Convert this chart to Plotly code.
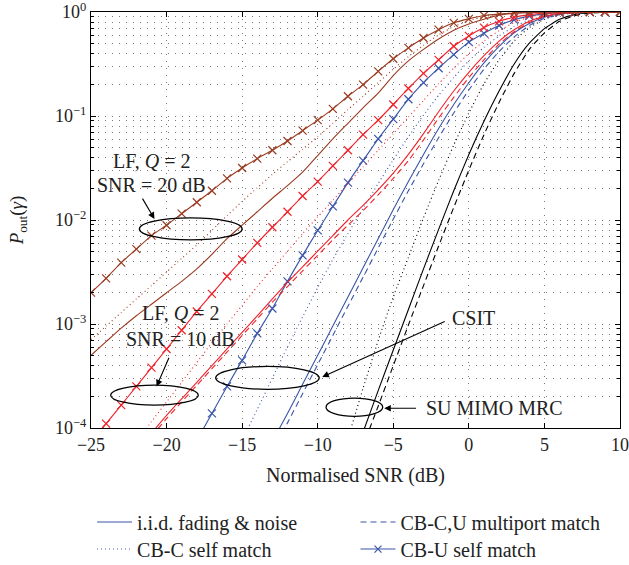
import plotly.graph_objects as go

# Normalised SNR (dB) grids, one per curve start
snr_25 = list(range(-25, 11))
snr_22 = list(range(-22, 11))
snr_21 = list(range(-21, 11))
snr_18 = list(range(-18, 11))
snr_15 = list(range(-15, 11))
snr_13 = list(range(-13, 11))
snr_9 = list(range(-9, 11))
snr_8 = list(range(-8, 11))

# LF, Q = 2, SNR = 20 dB (brown)
brown_iid = [5.01e-4, 6.76e-4, 9.12e-4, 1.20e-3, 1.55e-3, 2.00e-3, 2.57e-3, 3.39e-3, 4.68e-3,
             6.61e-3, 8.91e-3, 1.20e-2, 1.62e-2, 2.14e-2, 2.88e-2, 4.17e-2, 6.03e-2, 8.51e-2,
             0.120, 0.166, 0.245, 0.339, 0.437, 0.550, 0.668, 0.767, 0.851, 0.933, 0.973,
             0.991, 0.998, 1.0, 1.0, 1.0, 1.0, 1.0]
brown_cbc = [7.08e-4, 9.55e-4, 1.29e-3, 1.74e-3, 2.34e-3, 3.16e-3, 4.27e-3, 5.75e-3, 7.94e-3,
             1.10e-2, 1.51e-2, 2.04e-2, 2.75e-2, 3.63e-2, 4.79e-2, 6.31e-2, 8.51e-2, 0.115,
             0.155, 0.209, 0.282, 0.372, 0.479, 0.603, 0.724, 0.822, 0.902, 0.955, 0.984,
             0.995, 0.999, 1.0, 1.0, 1.0, 1.0, 1.0]
brown_cbu = [2.00e-3, 2.75e-3, 3.89e-3, 5.25e-3, 7.08e-3, 8.91e-3, 1.15e-2, 1.48e-2, 1.91e-2,
             2.51e-2, 3.16e-2, 3.89e-2, 4.68e-2, 5.75e-2, 7.24e-2, 9.12e-2, 0.117, 0.155,
             0.200, 0.269, 0.355, 0.452, 0.562, 0.676, 0.787, 0.859, 0.925, 0.955, 0.977,
             0.989, 0.995, 0.998, 0.999, 1.0, 1.0, 1.0]

# LF, Q = 2, SNR = 10 dB (red)
red_iid = [8.91e-5, 1.32e-4, 1.91e-4, 2.75e-4, 3.98e-4, 5.75e-4, 8.32e-4, 1.20e-3, 1.74e-3,
           2.51e-3, 3.55e-3, 5.01e-3, 7.08e-3, 1.00e-2, 1.38e-2, 1.95e-2, 2.82e-2, 4.27e-2,
           6.76e-2, 0.110, 0.174, 0.263, 0.380, 0.525, 0.676, 0.813, 0.912, 0.966, 0.989,
           0.998, 1.0, 1.0]
red_multi = [8.32e-5, 1.23e-4, 1.78e-4, 2.57e-4, 3.72e-4, 5.37e-4, 7.76e-4, 1.12e-3, 1.62e-3,
             2.29e-3, 3.24e-3, 4.57e-3, 6.46e-3, 8.91e-3, 1.23e-2, 1.74e-2, 2.51e-2, 3.72e-2,
             5.89e-2, 9.55e-2, 0.151, 0.234, 0.347, 0.490, 0.646, 0.794, 0.902, 0.962, 0.986,
             0.995, 0.999, 1.0]
red_cbc = [7.41e-5, 1.15e-4, 1.78e-4, 2.75e-4, 4.27e-4, 6.61e-4, 1.00e-3, 1.51e-3, 2.29e-3,
           3.39e-3, 5.01e-3, 7.41e-3, 1.07e-2, 1.55e-2, 2.24e-2, 3.24e-2, 4.68e-2, 6.76e-2,
           9.77e-2, 0.141, 0.204, 0.288, 0.398, 0.525, 0.661, 0.794, 0.891, 0.955, 0.984,
           0.995, 0.999, 1.0, 1.0]
red_cbu = [7.08e-5, 1.10e-4, 1.66e-4, 2.51e-4, 3.80e-4, 5.75e-4, 8.71e-4, 1.32e-3, 1.95e-3,
           2.88e-3, 4.17e-3, 6.03e-3, 8.51e-3, 1.20e-2, 1.70e-2, 2.34e-2, 3.31e-2, 4.68e-2,
           6.61e-2, 9.12e-2, 0.129, 0.184, 0.257, 0.347, 0.468, 0.589, 0.708, 0.813, 0.891,
           0.944, 0.977, 0.991, 0.997, 0.999, 1.0, 1.0]

# CSIT (blue)
blue_iid = [7.41e-5, 1.38e-4, 2.63e-4, 5.01e-4, 9.55e-4, 1.82e-3, 3.47e-3, 6.61e-3, 1.26e-2,
            2.34e-2, 4.27e-2, 7.59e-2, 0.129, 0.209, 0.324, 0.468, 0.631, 0.776, 0.891,
            0.955, 0.986, 0.998, 1.0, 1.0]
blue_multi = [6.03e-5, 1.12e-4, 2.14e-4, 4.07e-4, 7.76e-4, 1.48e-3, 2.82e-3, 5.37e-3, 1.02e-2,
              1.91e-2, 3.47e-2, 6.17e-2, 0.107, 0.178, 0.282, 0.417, 0.575, 0.741, 0.871,
              0.944, 0.982, 0.995, 0.999, 1.0]
blue_cbc = [7.59e-5, 1.51e-4, 3.02e-4, 6.03e-4, 1.17e-3, 2.24e-3, 4.17e-3, 7.41e-3, 1.29e-2,
            2.24e-2, 3.80e-2, 6.31e-2, 0.102, 0.158, 0.234, 0.339, 0.457, 0.589, 0.724,
            0.832, 0.912, 0.966, 0.989, 0.998, 1.0, 1.0]
blue_cbu = [7.59e-5, 1.38e-4, 2.51e-4, 4.47e-4, 8.13e-4, 1.41e-3, 2.57e-3, 4.57e-3, 7.94e-3,
            1.35e-2, 2.29e-2, 3.72e-2, 6.03e-2, 9.33e-2, 0.145, 0.209, 0.288, 0.389, 0.513,
            0.624, 0.741, 0.841, 0.912, 0.959, 0.984, 0.995, 0.999, 1.0, 1.0]

# SU MIMO MRC (black)
black_iid = [3.72e-5, 9.12e-5, 2.29e-4, 5.62e-4, 1.38e-3, 3.39e-3, 8.13e-3, 1.91e-2, 4.27e-2,
             8.91e-2, 0.174, 0.316, 0.501, 0.692, 0.851, 0.944, 0.982, 0.995, 1.0]
black_multi = [2.82e-5, 6.76e-5, 1.62e-4, 3.98e-4, 9.77e-4, 2.34e-3, 5.62e-3, 1.32e-2, 3.02e-2,
               6.61e-2, 0.135, 0.257, 0.437, 0.631, 0.813, 0.923, 0.977, 0.993, 1.0]
black_cbc = [2.51e-5, 7.94e-5, 2.40e-4, 6.92e-4, 1.82e-3, 4.37e-3, 1.05e-2, 2.40e-2, 5.25e-2,
             0.107, 0.204, 0.347, 0.525, 0.708, 0.851, 0.944, 0.982, 0.995, 0.999, 1.0]

x_ticks = [-25, -20, -15, -10, -5, 0, 5, 10]
x_labels = ["\u221225", "\u221220", "\u221215", "\u221210", "\u22125", "0", "5", "10"]
y_ticks = [1e-4, 1e-3, 1e-2, 1e-1, 1]
y_labels = ["10<sup>\u22124</sup>", "10<sup>\u22123</sup>", "10<sup>\u22122</sup>",
            "10<sup>\u22121</sup>", "10<sup>0</sup>"]

BROWN = "#9a3b22"
RED = "#f0222a"
BLUE = "#3a55a8"
BLACK = "#000000"
DOT = "1px,3px"
DASH = "6px,4px"
FONT = "Liberation Serif"

fig = go.Figure()


def add_curve(x, y, color, dash="solid", cross=False):
    fig.add_trace(go.Scatter(
        x=x, y=y, mode="lines+markers" if cross else "lines",
        line=dict(color=color, width=1.1, dash=dash, shape="spline", smoothing=0.5),
        marker=dict(symbol="x-thin", size=8, line=dict(color=color, width=1.2)),
        showlegend=False, hoverinfo="skip"))


add_curve(snr_9, black_cbc, BLACK, DOT)
add_curve(snr_8, black_iid, BLACK)
add_curve(snr_8, black_multi, BLACK, DASH)
add_curve(snr_15, blue_cbc, BLUE, DOT)
add_curve(snr_13, blue_iid, BLUE)
add_curve(snr_13, blue_multi, BLUE, DASH)
add_curve(snr_18, blue_cbu, BLUE, cross=True)
add_curve(snr_22, red_cbc, RED, DOT)
add_curve(snr_21, red_iid, RED)
add_curve(snr_21, red_multi, RED, DASH)
add_curve(snr_25, red_cbu, RED, cross=True)
add_curve(snr_25, brown_cbc, BROWN, DOT)
add_curve(snr_25, brown_iid, BROWN)
add_curve(snr_25, brown_cbu, BROWN, cross=True)

# legend entries (drawn in blue like the original), one small legend per slot
legend_items = [("i.i.d. fading &amp; noise", "solid", False, "legend"),
                ("CB-C,U multiport match", DASH, False, "legend2"),
                ("CB-C self match", DOT, False, "legend3"),
                ("CB-U self match", "solid", True, "legend4")]
for name, dash, cross, lg in legend_items:
    fig.add_trace(go.Scatter(
        x=[None], y=[None], name=name, mode="lines+markers" if cross else "lines",
        line=dict(color=BLUE, width=1.1, dash=dash), legend=lg,
        marker=dict(symbol="x-thin", size=7, line=dict(color=BLUE, width=1.2))))

ann_font = dict(family=FONT, size=20, color="#222")

# ellipses: x in dB, y as fraction of the plot height (log axis 1e-4 .. 1)
ellipses = [(-21.8, -15.0, 0.452, 0.505),
            (-23.7, -17.9, 0.055, 0.103),
            (-16.75, -9.9, 0.093, 0.148),
            (-9.45, -5.7, 0.028, 0.072)]
for x0, x1, y0, y1 in ellipses:
    fig.add_shape(type="circle", xref="x", yref="y domain", x0=x0, x1=x1, y0=y0, y1=y1,
                  line=dict(color="black", width=1.3), layer="above")

# arrows (y in log10 units)
arrows = [(-20.8, -1.99, -21.65, -1.78),
          (-20.66, -3.60, -19.8, -3.31),
          (-9.7, -3.51, -1.5, -2.97),
          (-5.6, -3.81, -3.4, -3.81)]
for hx, hy, tx, ty in arrows:
    fig.add_annotation(x=hx, y=hy, ax=tx, ay=ty, xref="x", yref="y", axref="x", ayref="y",
                       text="", showarrow=True, arrowhead=2, arrowsize=1.2, arrowwidth=1.1,
                       arrowcolor="black")

texts = [(-21.0, -1.43, "LF, <i>Q</i> = 2", "center"),
         (-21.0, -1.66, "SNR = 20 dB", "center"),
         (-19.1, -2.89, "LF, <i>Q</i> = 2", "center"),
         (-19.1, -3.14, "SNR = 10 dB", "center"),
         (-1.25, -2.94, "CSIT", "left"),
         (-3.0, -3.81, "SU MIMO MRC", "left")]
for tx, ty, txt, anchor in texts:
    fig.add_annotation(x=tx, y=ty, xref="x", yref="y", text=txt, showarrow=False,
                       xanchor=anchor, font=ann_font, bgcolor="rgba(0,0,0,0)")

grid_color = "#777"
legend_style = dict(orientation="v", xanchor="left", yanchor="middle", font=dict(size=20),
                    bgcolor="rgba(0,0,0,0)", itemwidth=35)
fig.update_layout(
    width=629, height=565,
    margin=dict(l=91, r=9, t=12, b=137, autoexpand=False),
    plot_bgcolor="white", paper_bgcolor="white",
    font=dict(family=FONT, size=18, color="#222"),
    xaxis=dict(range=[-25, 10], tickvals=x_ticks, ticktext=x_labels, automargin=False,
               ticks="inside", ticklen=5, tickcolor="black", mirror="allticks",
               ticklabeloverflow="allow", tickfont=dict(size=18),
               showline=True, linecolor="black", linewidth=1.2, zeroline=False,
               showgrid=True, gridcolor=grid_color, griddash="1px,6px", gridwidth=1,
               title=dict(text="Normalised SNR (dB)", standoff=14, font=dict(size=20))),
    yaxis=dict(type="log", range=[-4, 0], tickvals=y_ticks, ticktext=y_labels, automargin=False,
               ticks="inside", ticklen=5, tickcolor="black", mirror="allticks",
               ticklabeloverflow="allow", tickfont=dict(size=18),
               showline=True, linecolor="black", linewidth=1.2, zeroline=False,
               showgrid=True, gridcolor=grid_color, griddash="1px,6px", gridwidth=1,
               minor=dict(dtick="D1", ticks="inside", ticklen=3, tickcolor="black",
                          showgrid=True, gridcolor=grid_color, griddash="1px,6px"),
               title=dict(text="<i>P</i><sub>out</sub>(<i>\u03b3</i>)", standoff=26,
                          font=dict(size=19))),
    legend=dict(x=0.002, y=-0.226, **legend_style),
    legend2=dict(x=0.5, y=-0.226, **legend_style),
    legend3=dict(x=0.002, y=-0.291, **legend_style),
    legend4=dict(x=0.5, y=-0.291, **legend_style),
)

# page body has an 8px default margin; remove it so the figure sits at the window corner
fig.write_html("out.html", config={"displayModeBar": False},
               post_script="document.body.style.margin='0';")
